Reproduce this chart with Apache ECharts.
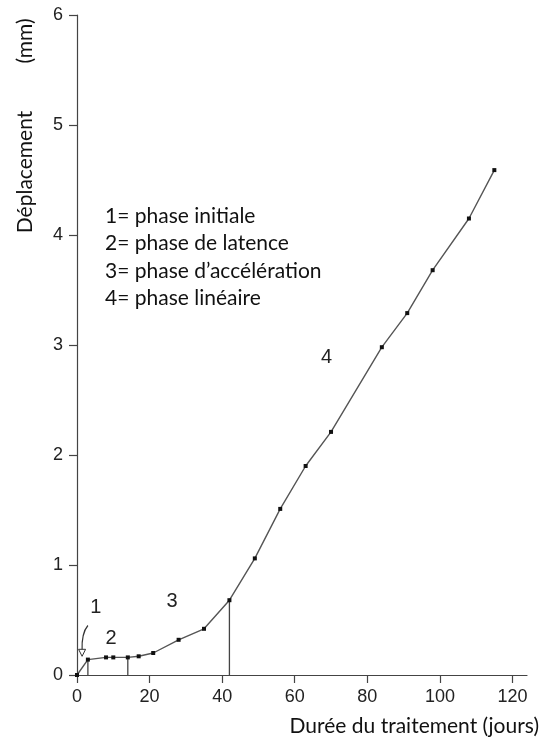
<!DOCTYPE html>
<html>
<head>
<meta charset="utf-8">
<script src="https://cdn.jsdelivr.net/npm/echarts@6/dist/echarts.min.js"></script>
<style>
html,body{margin:0;padding:0;background:#fff;}
#c{width:543px;height:740px;}
</style>
</head>
<body>
<div id="c"></div>
<script>
// Data
const days = [0, 3, 8, 10, 14, 17, 21, 28, 35, 42, 49, 56, 63, 70, 84, 91, 98, 108, 115];
const displacement = [0, 0.14, 0.16, 0.16, 0.16, 0.17, 0.2, 0.32, 0.42, 0.68, 1.06, 1.51, 1.9, 2.21, 2.98, 3.29, 3.68, 4.15, 4.59];
const dropIndices = [1, 4, 9];
const xTicks = [0, 20, 40, 60, 80, 100, 120];
const yTicks = [0, 1, 2, 3, 4, 5, 6];
const phaseLabels = ['1', '2', '3', '4'];
const legendLines = ['1= phase initiale', '2= phase de latence', '3= phase d\u2019accélération', '4= phase linéaire'];
const xTitle = 'Durée du traitement (jours)';
const yTitleMain = 'Déplacement';
const yTitleUnit = '(mm)';

const chart = echarts.init(document.getElementById('c'), null, {renderer: 'canvas'});
const axisColor = '#444';
const tickFont = {fontFamily: 'Liberation Sans, Arial, sans-serif', fontSize: 18, color: '#222'};

const series = [{
  type: 'line',
  data: days.map((d, i) => [d, displacement[i]]),
  symbol: 'rect',
  symbolSize: 4,
  itemStyle: {color: '#111'},
  lineStyle: {color: '#555', width: 1.4},
  silent: true,
  z: 3
}];
dropIndices.forEach(i => {
  series.push({
    type: 'line',
    data: [[days[i], 0], [days[i], displacement[i]]],
    symbol: 'none',
    lineStyle: {color: '#444', width: 1.3},
    silent: true,
    z: 2
  });
});

chart.setOption({
  animation: false,
  grid: {left: 77, right: 16, top: 15, bottom: 65},
  xAxis: {
    type: 'value', min: 0, max: 124,
    axisLine: {lineStyle: {color: axisColor, width: 1.2}},
    axisTick: {show: true, length: 8, customValues: xTicks, lineStyle: {color: axisColor, width: 1.2}},
    axisLabel: Object.assign({customValues: xTicks, margin: 13}, tickFont),
    splitLine: {show: false}
  },
  yAxis: {
    type: 'value', min: 0, max: 6, interval: 1,
    axisLine: {show: true, lineStyle: {color: axisColor, width: 1.2}},
    axisTick: {show: true, length: 8, lineStyle: {color: axisColor, width: 1.2}},
    axisLabel: Object.assign({margin: 14, customValues: yTicks}, tickFont),
    splitLine: {show: false}
  },
  series: series
});

function px(x, y) { return chart.convertToPixel({gridIndex: 0}, [x, y]); }

const annFont = '20px "Liberation Sans", Arial, sans-serif';
const annPos = [[5.2, 0.61], [9.4, 0.33], [26.2, 0.67], [68.8, 2.89]];
const graphics = [];
phaseLabels.forEach((t, i) => {
  const p = px(annPos[i][0], annPos[i][1]);
  graphics.push({type: 'text', x: p[0], y: p[1], style: {text: t, font: annFont, fill: '#222', align: 'center', verticalAlign: 'middle'}});
});
// curved arrow for phase 1
const a0 = px(3.0, 0.45), a1 = px(1.4, 0.22), ac = px(1.2, 0.38), tip = px(1.4, 0.17);
graphics.push({type: 'bezierCurve', shape: {x1: a0[0], y1: a0[1], x2: a1[0], y2: a1[1], cpx1: ac[0], cpy1: ac[1]}, style: {stroke: '#333', lineWidth: 1.2, fill: null}});
graphics.push({type: 'polygon', shape: {points: [[tip[0], tip[1]], [tip[0] - 3.5, tip[1] - 7], [tip[0] + 3.5, tip[1] - 7]]}, style: {stroke: '#333', lineWidth: 1, fill: '#fff'}});
// legend text
const txtFont = '21px Lato, "Open Sans", sans-serif';
legendLines.forEach((t, i) => {
  graphics.push({type: 'text', x: 105, y: 216 + i * 27.5, style: {text: t, font: txtFont, fill: '#111', verticalAlign: 'middle'}});
});
// axis titles
graphics.push({type: 'text', x: 539, y: 726, style: {text: xTitle, font: txtFont, fill: '#111', align: 'right', verticalAlign: 'middle'}});
graphics.push({type: 'text', x: 25, y: 172, rotation: Math.PI / 2, style: {text: yTitleMain, font: txtFont, fill: '#111', align: 'center', verticalAlign: 'middle'}});
graphics.push({type: 'text', x: 25, y: 41, rotation: Math.PI / 2, style: {text: yTitleUnit, font: txtFont, fill: '#111', align: 'center', verticalAlign: 'middle'}});
chart.setOption({graphic: graphics});
</script>
</body>
</html>
